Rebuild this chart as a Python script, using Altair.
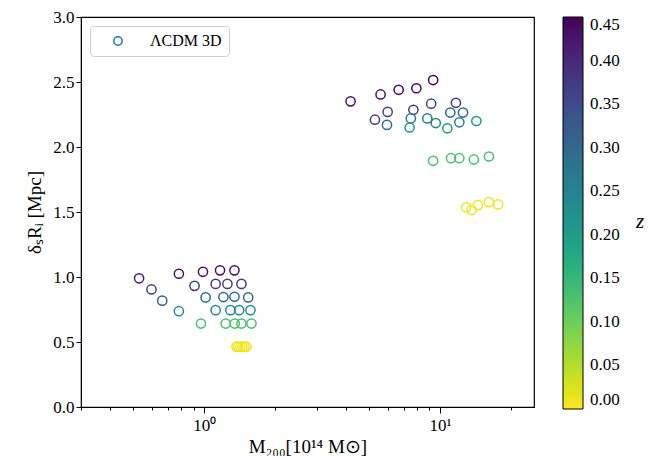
import altair as alt
import pandas as pd

# Halo mass M200 [1e14 Msun]
mass = [
    # lower group
    0.529, 0.597, 0.663, 0.780,
    0.780, 0.987, 1.166, 1.342,
    0.909, 1.117, 1.253, 1.437,
    1.013, 1.205, 1.342, 1.535,
    1.117, 1.290, 1.405, 1.569,
    0.968, 1.232, 1.346, 1.437, 1.585,
    1.368, 1.39, 1.42, 1.45, 1.48, 1.51,
    # upper group
    4.17, 5.59, 6.67, 7.93, 9.34,
    5.29, 5.99, 7.70, 9.16, 11.66,
    5.95, 11.04, 12.5,
    7.51, 8.82, 9.58, 12.06,
    7.42, 10.73, 14.24,
    9.34, 11.12, 12.06, 13.9, 16.1,
    12.9, 13.6, 14.46, 16.1, 17.6,
]
# delta_s R_i [Mpc]
dsr = [
    0.990, 0.904, 0.818, 0.737,
    1.025, 1.040, 1.051, 1.051,
    0.932, 0.947, 0.947, 0.947,
    0.843, 0.846, 0.848, 0.843,
    0.745, 0.745, 0.745, 0.745,
    0.642, 0.642, 0.642, 0.642, 0.642,
    0.464, 0.464, 0.464, 0.464, 0.464, 0.464,
    2.351, 2.404, 2.440, 2.452, 2.515,
    2.210, 2.270, 2.286, 2.333, 2.340,
    2.170, 2.265, 2.265,
    2.220, 2.220, 2.184, 2.190,
    2.150, 2.144, 2.200,
    1.894, 1.914, 1.914, 1.904, 1.927,
    1.536, 1.515, 1.553, 1.576, 1.558,
]
# redshift
zval = [
    0.42, 0.37, 0.31, 0.24,
    0.43, 0.43, 0.43, 0.43,
    0.37, 0.37, 0.37, 0.37,
    0.30, 0.30, 0.30, 0.30,
    0.24, 0.24, 0.24, 0.24,
    0.13, 0.13, 0.13, 0.13, 0.13,
    0.01, 0.01, 0.01, 0.01, 0.01, 0.01,
    0.43, 0.43, 0.44, 0.44, 0.45,
    0.37, 0.37, 0.37, 0.36, 0.37,
    0.30, 0.30, 0.30,
    0.26, 0.26, 0.25, 0.25,
    0.21, 0.21, 0.21,
    0.13, 0.13, 0.13, 0.13, 0.13,
    0.01, 0.01, 0.01, 0.01, 0.01,
]
series_name = "ΛCDM 3D"
colorbar_label = ["z"]
x_major = [1, 10]
x_minor = [0.3, 0.4, 0.5, 0.6, 0.7, 0.8, 0.9, 2, 3, 4, 5, 6, 7, 8, 9, 20]
y_ticks = [0.0, 0.5, 1.0, 1.5, 2.0, 2.5, 3.0]
z_ticks = [0.0, 0.05, 0.10, 0.15, 0.20, 0.25, 0.30, 0.35, 0.40, 0.45]

df = pd.DataFrame({"mass": mass, "dsr": dsr, "z": zval,
                   "label": [series_name] * len(mass)})

FONT = "Liberation Serif"
W, H = 453, 390

xscale = alt.Scale(type="log", domain=[0.3, 25], nice=False)

points = alt.Chart(df).mark_point(filled=False, size=85, strokeWidth=1.5, opacity=1).encode(
    x=alt.X("mass:Q", scale=xscale,
            axis=alt.Axis(values=x_major + x_minor,
                          labelExpr="datum.value == 1 ? '10⁰' : (datum.value == 10 ? '10¹' : '')",
                          tickSize={"condition": {"test": "datum.value == 1 || datum.value == 10", "value": 6}, "value": 3},
                          title="M₂₀₀[10¹⁴ M⊙]", grid=False, labelFontSize=17,
                          labelFont=FONT, titleFont=FONT,
                          titleFontSize=19, titleFontWeight="normal", labelPadding=4,
                          titlePadding=4)),
    y=alt.Y("dsr:Q", scale=alt.Scale(domain=[0, 3], nice=False),
            axis=alt.Axis(values=y_ticks, format=".1f", title="δₛRᵢ [Mpc]", grid=False,
                          labelFont=FONT, titleFont=FONT,
                          labelFontSize=17, titleFontSize=19, titleFontWeight="normal",
                          tickSize=5, titlePadding=8)),
    stroke=alt.Stroke("z:Q",
                      scale=alt.Scale(scheme="viridis", reverse=True, domain=[0, 0.45]),
                      legend=alt.Legend(title=None, values=z_ticks, format=".2f",
                                        gradientLength=H + 2, gradientThickness=20,
                                        gradientStrokeColor="black", gradientStrokeWidth=1,
                                        labelFont=FONT, labelFontSize=17,
                                        offset=29, labelOffset=7, orient="right")),
    shape=alt.Shape("label:N", scale=alt.Scale(range=["circle"]),
                    legend=alt.Legend(title=None, orient="top-left", offset=9,
                                      symbolStrokeColor="#1f77b4", symbolFillColor="white",
                                      symbolStrokeWidth=1.5, symbolSize=70, symbolOffset=13,
                                      labelFont=FONT, labelFontSize=16, labelOffset=24,
                                      padding=7, strokeColor="#cccccc", fillColor="white",
                                      cornerRadius=4, rowPadding=0)),
)

zlabel = alt.Chart(pd.DataFrame({"t": colorbar_label})).mark_text(
    font=FONT, fontSize=21, fontStyle="italic", baseline="middle", align="center",
    color="black"
).encode(x=alt.value(W + 106), y=alt.value(H / 2 + 10), text="t:N")

chart = alt.layer(points, zlabel).properties(width=W, height=H).configure(
    font=FONT
).configure_axis(
    domainColor="black", tickColor="black", labelColor="black", titleColor="black",
    labelFont=FONT, titleFont=FONT
).configure_legend(
    labelColor="black", titleColor="black", labelFont=FONT
).configure_view(
    stroke="black", strokeWidth=1.2
).properties(padding={"left": 17, "top": 0, "right": 0, "bottom": 0})

chart.save("out.html", embed_options={"renderer": "svg", "actions": False})
